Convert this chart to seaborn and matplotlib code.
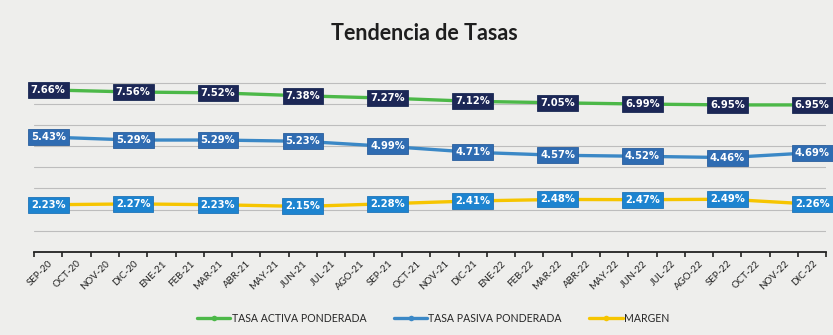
import matplotlib
matplotlib.use("Agg")
import matplotlib.pyplot as plt
from matplotlib.ticker import FixedLocator, NullFormatter
import pandas as pd
import seaborn as sns

# Monthly category axis
months = ["SEP-20", "OCT-20", "NOV-20", "DIC-20", "ENE-21", "FEB-21", "MAR-21",
          "ABR-21", "MAY-21", "JUN-21", "JUL-21", "AGO-21", "SEP-21", "OCT-21",
          "NOV-21", "DIC-21", "ENE-22", "FEB-22", "MAR-22", "ABR-22", "MAY-22",
          "JUN-22", "JUL-22", "AGO-22", "SEP-22", "OCT-22", "NOV-22", "DIC-22"]

# Quarterly observations (%)
quarters = ["SEP-20", "DIC-20", "MAR-21", "JUN-21", "SEP-21",
            "DIC-21", "MAR-22", "JUN-22", "SEP-22", "DIC-22"]
tasa_activa = [7.66, 7.56, 7.52, 7.38, 7.27, 7.12, 7.05, 6.99, 6.95, 6.95]
tasa_pasiva = [5.43, 5.29, 5.29, 5.23, 4.99, 4.71, 4.57, 4.52, 4.46, 4.69]
margen = [2.23, 2.27, 2.23, 2.15, 2.28, 2.41, 2.48, 2.47, 2.49, 2.26]

series_names = ["TASA ACTIVA PONDERADA", "TASA PASIVA PONDERADA", "MARGEN"]
series_values = [tasa_activa, tasa_pasiva, margen]
line_colors = ["#4cb848", "#3b88c6", "#f6c500"]
box_colors = ["#1c2756", "#2f6cb2", "#1d84d0"]
box_edges = ["#1a2a55", "#2a5f9e", "#1f74b8"]

rows = []
for name, vals in zip(series_names, series_values):
    for q, v in zip(quarters, vals):
        rows.append({"pos": months.index(q), "serie": name, "valor": v})
df = pd.DataFrame(rows)

sns.set_theme(style="white")
plt.rcParams["font.family"] = ["DejaVu Sans"]

bg = "#eeeeec"
fig = plt.figure(figsize=(8.33, 3.35), dpi=100, facecolor=bg)
ax = fig.add_axes([0.041, 0.248, 0.951, 0.543])
ax.set_facecolor(bg)

sns.lineplot(data=df, x="pos", y="valor", hue="serie", hue_order=series_names,
             palette=dict(zip(series_names, line_colors)), marker="o",
             markersize=4, markeredgewidth=0, linewidth=2.4, ax=ax, legend=False)

# Value labels in filled boxes
for name, vals, bc, be in zip(series_names, series_values, box_colors, box_edges):
    for q, v in zip(quarters, vals):
        ax.text(months.index(q), v, f"{v:.2f}%", ha="center", va="center",
                fontsize=7.2, fontweight="bold", color="white", zorder=5,
                bbox=dict(boxstyle="square,pad=0.3", fc=bc, ec=be, lw=0.6))

ax.set_xlim(-0.5, len(months) - 0.5)
ax.set_ylim(0, 8.6)
ax.set_yticks(range(1, 9))
ax.yaxis.grid(True, color="#bdbdbd", linewidth=0.8)
ax.tick_params(axis="y", left=False, labelleft=False)

ax.set_xticks(range(len(months)))
ax.set_xticklabels(months, rotation=45, ha="right", rotation_mode="anchor",
                   fontsize=7.0, color="#222222", family=["Lato", "DejaVu Sans"])
ax.tick_params(axis="x", which="major", length=0, pad=5)
ax.xaxis.set_minor_locator(FixedLocator([i - 0.5 for i in range(len(months) + 1)]))
ax.xaxis.set_minor_formatter(NullFormatter())
ax.tick_params(axis="x", which="minor", bottom=True, length=3.5, width=1.2, color="#222222")

for s in ["top", "right", "left"]:
    ax.spines[s].set_visible(False)
ax.spines["bottom"].set_color("#222222")
ax.spines["bottom"].set_linewidth(1.3)
ax.set_xlabel("")
ax.set_ylabel("")

fig.text(0.51, 0.9, "Tendencia de Tasas", ha="center", va="center",
         fontsize=15.5, fontweight="bold", color="#1e1e1e", family=["Lato", "DejaVu Sans"])

handles = [plt.Line2D([], [], color=c, lw=2.4, marker="o", markersize=4, markeredgewidth=0)
           for c in line_colors]
fig.legend(handles, series_names, loc="center", bbox_to_anchor=(0.52, 0.05), ncol=3,
           frameon=False, handlelength=3.2, handletextpad=0.1,
           columnspacing=2.6, prop={"family": ["Lato", "DejaVu Sans"], "size": 7.6})

fig.savefig("out.png", dpi=100, facecolor=bg)
